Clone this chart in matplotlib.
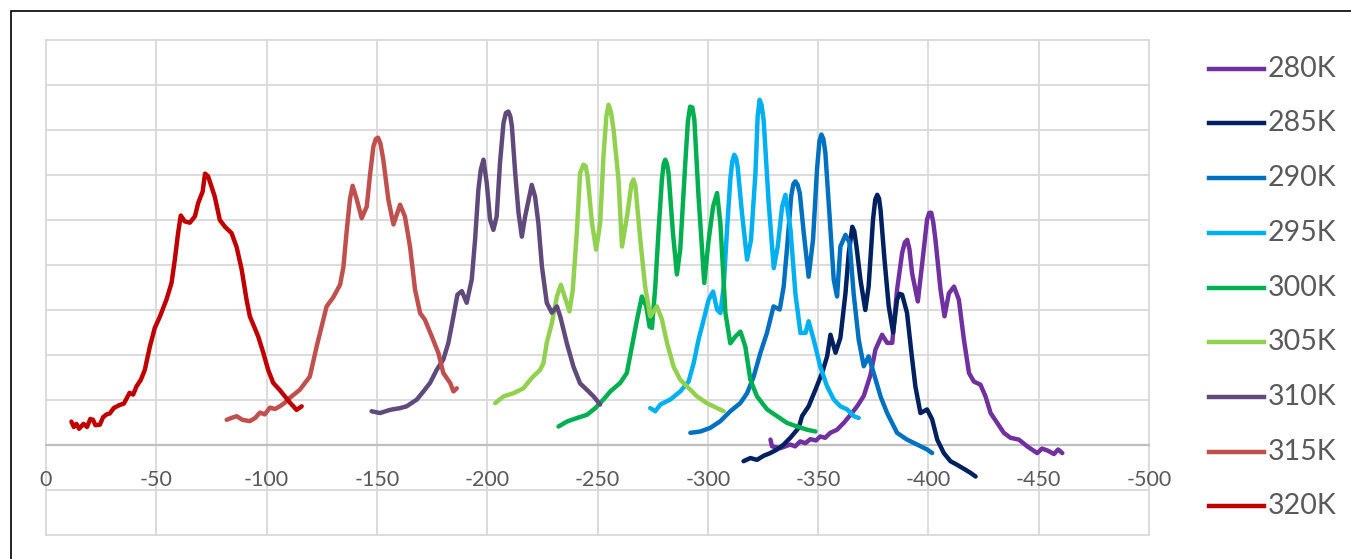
import matplotlib.pyplot as plt
from matplotlib.lines import Line2D
from matplotlib.patches import Rectangle

plt.rcParams['font.family'] = ['Lato', 'DejaVu Sans']
plt.rcParams['axes.unicode_minus'] = False

labels = ['280K', '285K', '290K', '295K', '300K', '305K', '310K', '315K', '320K']
colors = ['#7030A0', '#002060', '#0070C0', '#00B0F0', '#00B050',
          '#92D050', '#604A7B', '#C0504D', '#C00000']

xticks = [0, -50, -100, -150, -200, -250, -300, -350, -400, -450, -500]
xtick_labels = ['0', '-50', '-100', '-150', '-200', '-250', '-300', '-350', '-400', '-450', '-500']

# values (y in gridline units)
x_280 = [-328.4, -329.1, -332.9, -337.4, -339.6, -341.9, -344.2, -346.5, -349.0, -351.0, -353.2, -355.5,
         -358.6, -361.6, -364.7, -367.7, -370.7, -373.7, -376.0, -379.0, -381.3, -383.6, -385.8,
         -388.1, -389.3, -390.4, -391.4, -392.6, -395.2, -397.2, -399.4, -400.4, -401.3, -402.2, -403.2,
         -405.5, -407.3, -409.3, -411.6, -413.8, -416.1, -418.4, -420.6, -423.6, -425.9, -428.2,
         -431.2, -434.2, -437.2, -441.0, -444.8, -449.3, -451.5, -453.9, -456.9, -458.8, -460.7]
y_280 = [0.12, -0.03, -0.07, 0.01, -0.03, 0.08, 0.04, 0.13, 0.10, 0.19, 0.16, 0.27,
         0.34, 0.49, 0.67, 0.86, 1.09, 1.55, 2.12, 2.45, 2.27, 2.27, 3.45,
         4.27, 4.50, 4.56, 4.35, 3.82, 3.19, 4.04, 5.01, 5.16, 5.16, 4.95, 4.56,
         3.45, 2.86, 3.37, 3.52, 3.23, 2.34, 1.60, 1.41, 1.34, 1.08, 0.71,
         0.49, 0.27, 0.16, 0.12, -0.03, -0.18, -0.08, -0.12, -0.20, -0.10, -0.18]

x_285 = [-316.2, -319.3, -322.3, -325.3, -328.3, -331.4, -334.4, -337.4, -341.2, -342.7, -345.7,
         -348.8, -351.8, -354.1, -355.6, -357.9, -360.1, -362.4, -363.9, -365.5, -366.4, -367.4,
         -369.2, -371.4, -372.9, -374.9, -375.9, -376.8, -377.6, -378.3, -380.1, -382.0, -384.0,
         -385.8, -386.9, -388.1, -390.3, -392.3, -394.1, -396.4, -399.4, -401.7, -404.0, -407.0,
         -410.0, -413.0, -416.8, -419.1, -421.4]
y_285 = [-0.36, -0.29, -0.33, -0.24, -0.18, -0.10, 0.01, 0.16, 0.38, 0.64, 0.86,
         1.23, 1.60, 1.97, 2.45, 2.05, 2.38, 3.37, 4.26, 4.85, 4.75, 4.41,
         3.67, 3.00, 3.52, 5.01, 5.45, 5.56, 5.48, 5.23, 4.12, 3.09, 2.50,
         3.23, 3.36, 3.34, 2.94, 2.05, 1.30, 0.71, 0.79, 0.57, 0.12, -0.18,
         -0.36, -0.44, -0.55, -0.62, -0.70]

x_290 = [-292.1, -296.6, -301.1, -305.7, -310.2, -314.7, -317.8, -320.8, -323.8, -326.8, -329.8,
         -332.6, -334.4, -336.0, -337.8, -338.8, -339.7, -340.7, -341.7, -343.5, -345.7, -347.7,
         -349.5, -350.6, -351.5, -352.4, -353.3, -355.3, -357.1, -358.6, -360.1, -362.4, -364.3,
         -366.1, -368.4, -370.7, -372.9, -375.2, -378.3, -381.3, -385.8, -390.3, -394.9, -399.4,
         -401.7]
y_290 = [0.27, 0.30, 0.38, 0.53, 0.75, 0.93, 1.15, 1.52, 2.04, 2.49, 3.08,
         3.01, 3.52, 4.42, 5.53, 5.80, 5.86, 5.78, 5.60, 4.71, 3.74, 4.56,
         6.12, 6.75, 6.90, 6.80, 6.49, 5.01, 3.67, 3.30, 4.41, 4.67, 4.49,
         3.37, 2.34, 1.75, 1.97, 1.60, 1.08, 0.71, 0.27, 0.12, 0.01, -0.10,
         -0.18]

x_295 = [-273.9, -276.2, -278.5, -283.0, -287.5, -291.3, -293.6, -295.8, -298.1, -300.4, -302.4,
         -304.2, -305.7, -307.2, -308.7, -310.2, -311.1, -312.0, -312.8, -313.5, -315.5, -317.8,
         -319.6, -321.6, -322.6, -323.5, -324.4, -325.3, -327.6, -329.9, -331.7, -333.7, -335.2,
         -337.5, -339.7, -342.0, -344.3, -345.7, -348.0, -351.0, -354.1, -357.1, -360.1, -363.2,
         -366.2, -368.4]
y_295 = [0.82, 0.75, 0.90, 1.01, 1.19, 1.41, 1.82, 2.34, 2.78, 3.23, 3.41,
         3.01, 2.93, 3.52, 4.78, 5.90, 6.30, 6.45, 6.38, 6.19, 5.15, 4.12,
         4.56, 6.04, 7.30, 7.67, 7.55, 7.23, 5.38, 3.93, 4.41, 5.30, 5.56,
         4.78, 3.37, 2.49, 2.49, 2.75, 2.34, 1.74, 1.30, 1.01, 0.86, 0.79,
         0.64, 0.60]

x_300 = [-232.3, -236.1, -240.7, -245.2, -249.0, -252.7, -255.8, -260.3, -263.3, -265.6, -267.9,
         -270.1, -272.1, -273.6, -274.7, -276.2, -277.7, -279.2, -280.0, -280.7, -281.5, -282.2,
         -284.2, -286.0, -287.5, -289.8, -291.0, -292.0, -293.0, -293.9, -295.8, -298.4, -300.4,
         -302.4, -304.2, -305.7, -308.0, -310.2, -312.5, -314.8, -317.0, -319.3, -322.3, -326.9,
         -331.4, -335.9, -340.5, -345.0, -348.8]
y_300 = [0.41, 0.52, 0.60, 0.67, 0.82, 1.01, 1.19, 1.38, 1.60, 2.19, 2.78,
         3.30, 3.08, 2.63, 2.60, 3.52, 4.78, 5.90, 6.25, 6.34, 6.25, 6.04,
         4.71, 3.79, 4.34, 6.27, 7.20, 7.52, 7.50, 7.23, 5.52, 3.60, 4.56,
         5.30, 5.60, 4.93, 2.93, 2.26, 2.41, 2.52, 2.19, 1.45, 1.08, 0.79,
         0.64, 0.49, 0.41, 0.34, 0.30]

x_305 = [-203.6, -207.4, -211.9, -216.4, -220.2, -224.0, -225.5, -227.0, -229.3, -231.6, -233.4,
         -235.3, -237.3, -238.8, -240.7, -242.1, -243.6, -244.6, -245.5, -247.5, -249.4, -251.2,
         -252.7, -254.0, -255.0, -256.1, -257.3, -259.5, -261.1, -263.5, -265.4, -266.3, -267.2,
         -269.4, -271.6, -273.9, -276.9, -279.2, -281.5, -284.5, -287.5, -290.6, -295.1, -299.6,
         -304.2, -307.2]
y_305 = [0.93, 1.08, 1.15, 1.26, 1.49, 1.67, 1.82, 2.27, 2.71, 3.30, 3.56,
         3.27, 2.97, 3.45, 4.78, 6.04, 6.23, 6.20, 5.97, 4.93, 4.34, 4.93,
         6.41, 7.30, 7.56, 7.40, 7.00, 5.90, 4.41, 5.12, 5.80, 5.90, 5.75,
         4.56, 3.52, 2.86, 3.08, 2.79, 2.27, 1.74, 1.45, 1.30, 1.08, 0.93,
         0.82, 0.75]

x_310 = [-147.6, -151.4, -155.9, -160.5, -163.5, -168.1, -171.1, -174.1, -177.1, -180.1, -182.4,
         -184.7, -186.5, -188.5, -190.7, -193.0, -194.5, -196.0, -197.1, -198.3, -199.8, -201.3,
         -202.8, -204.3, -205.8, -207.4, -208.5, -209.6, -210.5, -211.2, -212.7, -214.2, -215.7,
         -217.2, -220.2, -221.7, -223.2, -224.8, -227.0, -229.3, -231.6, -233.1, -236.1, -239.1,
         -242.1, -245.1, -248.2, -251.2]
y_310 = [0.75, 0.71, 0.78, 0.82, 0.86, 1.01, 1.19, 1.38, 1.67, 1.90, 2.27,
         2.86, 3.34, 3.42, 3.16, 3.68, 4.56, 5.67, 6.12, 6.34, 5.82, 5.01,
         4.78, 5.08, 6.27, 7.16, 7.38, 7.41, 7.30, 7.08, 6.04, 5.16, 4.63,
         5.08, 5.78, 5.52, 4.93, 3.97, 3.16, 2.94, 3.08, 2.86, 2.26, 1.74,
         1.37, 1.23, 1.08, 0.90]

x_315 = [-81.9, -84.0, -86.4, -89.0, -92.4, -94.8, -97.0, -99.2, -101.5, -103.8, -106.0, -108.3,
         -110.6, -115.1, -119.6, -122.7, -127.2, -130.2, -133.3, -134.8, -136.3, -137.8, -139.0,
         -140.8, -143.1, -145.4, -146.9, -148.4, -149.5, -150.5, -151.6, -152.9, -155.2, -157.5,
         -160.5, -162.7, -165.0, -167.3, -169.6, -171.8, -174.9, -177.9, -180.1, -183.2, -184.7,
         -186.2]
y_315 = [0.56, 0.60, 0.64, 0.56, 0.53, 0.60, 0.72, 0.68, 0.83, 0.80, 0.86, 0.94,
         1.05, 1.23, 1.52, 2.19, 3.08, 3.28, 3.56, 3.95, 4.75, 5.47, 5.76,
         5.47, 5.04, 5.30, 6.01, 6.63, 6.80, 6.83, 6.70, 6.34, 5.45, 4.90,
         5.34, 5.08, 4.41, 3.45, 2.93, 2.78, 2.41, 2.04, 1.60, 1.38, 1.19,
         1.26]

x_320 = [-11.5, -12.6, -13.8, -15.0, -17.0, -18.6, -20.1, -21.3, -22.4, -24.4, -25.9, -27.5,
         -28.9, -30.7, -33.4, -35.3, -37.9, -39.5, -41.0, -43.0, -44.8, -47.1, -49.3, -51.6,
         -54.6, -56.9, -58.4, -59.9, -61.1, -62.9, -65.2, -67.5, -69.0, -71.0, -72.1, -73.5,
         -76.5, -78.8, -81.1, -84.1, -86.4, -88.7, -90.9, -92.4, -96.2, -98.5, -100.7, -103.0,
         -106.0, -108.3, -110.6, -113.6, -115.9]
y_320 = [0.52, 0.40, 0.47, 0.36, 0.47, 0.40, 0.58, 0.56, 0.44, 0.45, 0.62, 0.68,
         0.70, 0.82, 0.89, 0.92, 1.16, 1.12, 1.30, 1.45, 1.67, 2.19, 2.60, 2.85,
         3.23, 3.60, 4.12, 4.72, 5.10, 4.97, 4.94, 5.08, 5.38, 5.63, 6.03, 5.97,
         5.52, 5.00, 4.85, 4.71, 4.40, 3.90, 3.23, 2.86, 2.41, 2.05, 1.67, 1.38,
         1.22, 1.08, 0.94, 0.78, 0.86]

series_x = [x_280, x_285, x_290, x_295, x_300, x_305, x_310, x_315, x_320]
series_y = [y_280, y_285, y_290, y_295, y_300, y_305, y_310, y_315, y_320]

W, H = 1351, 559
fig = plt.figure(figsize=(W / 100, H / 100), dpi=100)
ax = fig.add_axes([46 / W, 1 - 535 / H, 1103 / W, 495 / H])
ax.set_xlim(0, -500)
ax.set_ylim(-2, 9)

# gridlines
for yy in range(-2, 10):
    if yy != 0:
        ax.axhline(yy, color='#D9D9D9', lw=1.3, zorder=0, clip_on=False)
for xx in xticks:
    ax.axvline(xx, color='#D9D9D9', lw=1.3, zorder=0, clip_on=False)

for s in ['top', 'right', 'left']:
    ax.spines[s].set_visible(False)
ax.spines['bottom'].set_position(('data', 0))
ax.spines['bottom'].set_color('#BFBFBF')
ax.spines['bottom'].set_linewidth(1.6)
ax.set_xticks(xticks, xtick_labels)
ax.set_yticks([])
ax.tick_params(axis='x', length=0, pad=18, labelsize=15.5, labelcolor='#595959')

for x, y, c in zip(series_x, series_y, colors):
    ax.plot(x, y, color=c, lw=3.2, zorder=3, solid_joinstyle='round', solid_capstyle='round')

# legend on the right
for i, (lab, c) in enumerate(zip(labels, colors)):
    yc = 1 - (68.8 + i * 54.7) / H
    fig.add_artist(Line2D([1209 / W, 1264 / W], [yc, yc], color=c, lw=3.2,
                          transform=fig.transFigure))
    fig.text(1268 / W, yc, lab, fontsize=20.5, color='#595959', va='center', ha='left')

# outer chart border
fig.add_artist(Rectangle((11 / W, -0.1), 2.0, 1.1 - 11 / H, fill=False,
                         edgecolor='black', lw=1.2, transform=fig.transFigure))

fig.savefig('out.png', dpi=100)
